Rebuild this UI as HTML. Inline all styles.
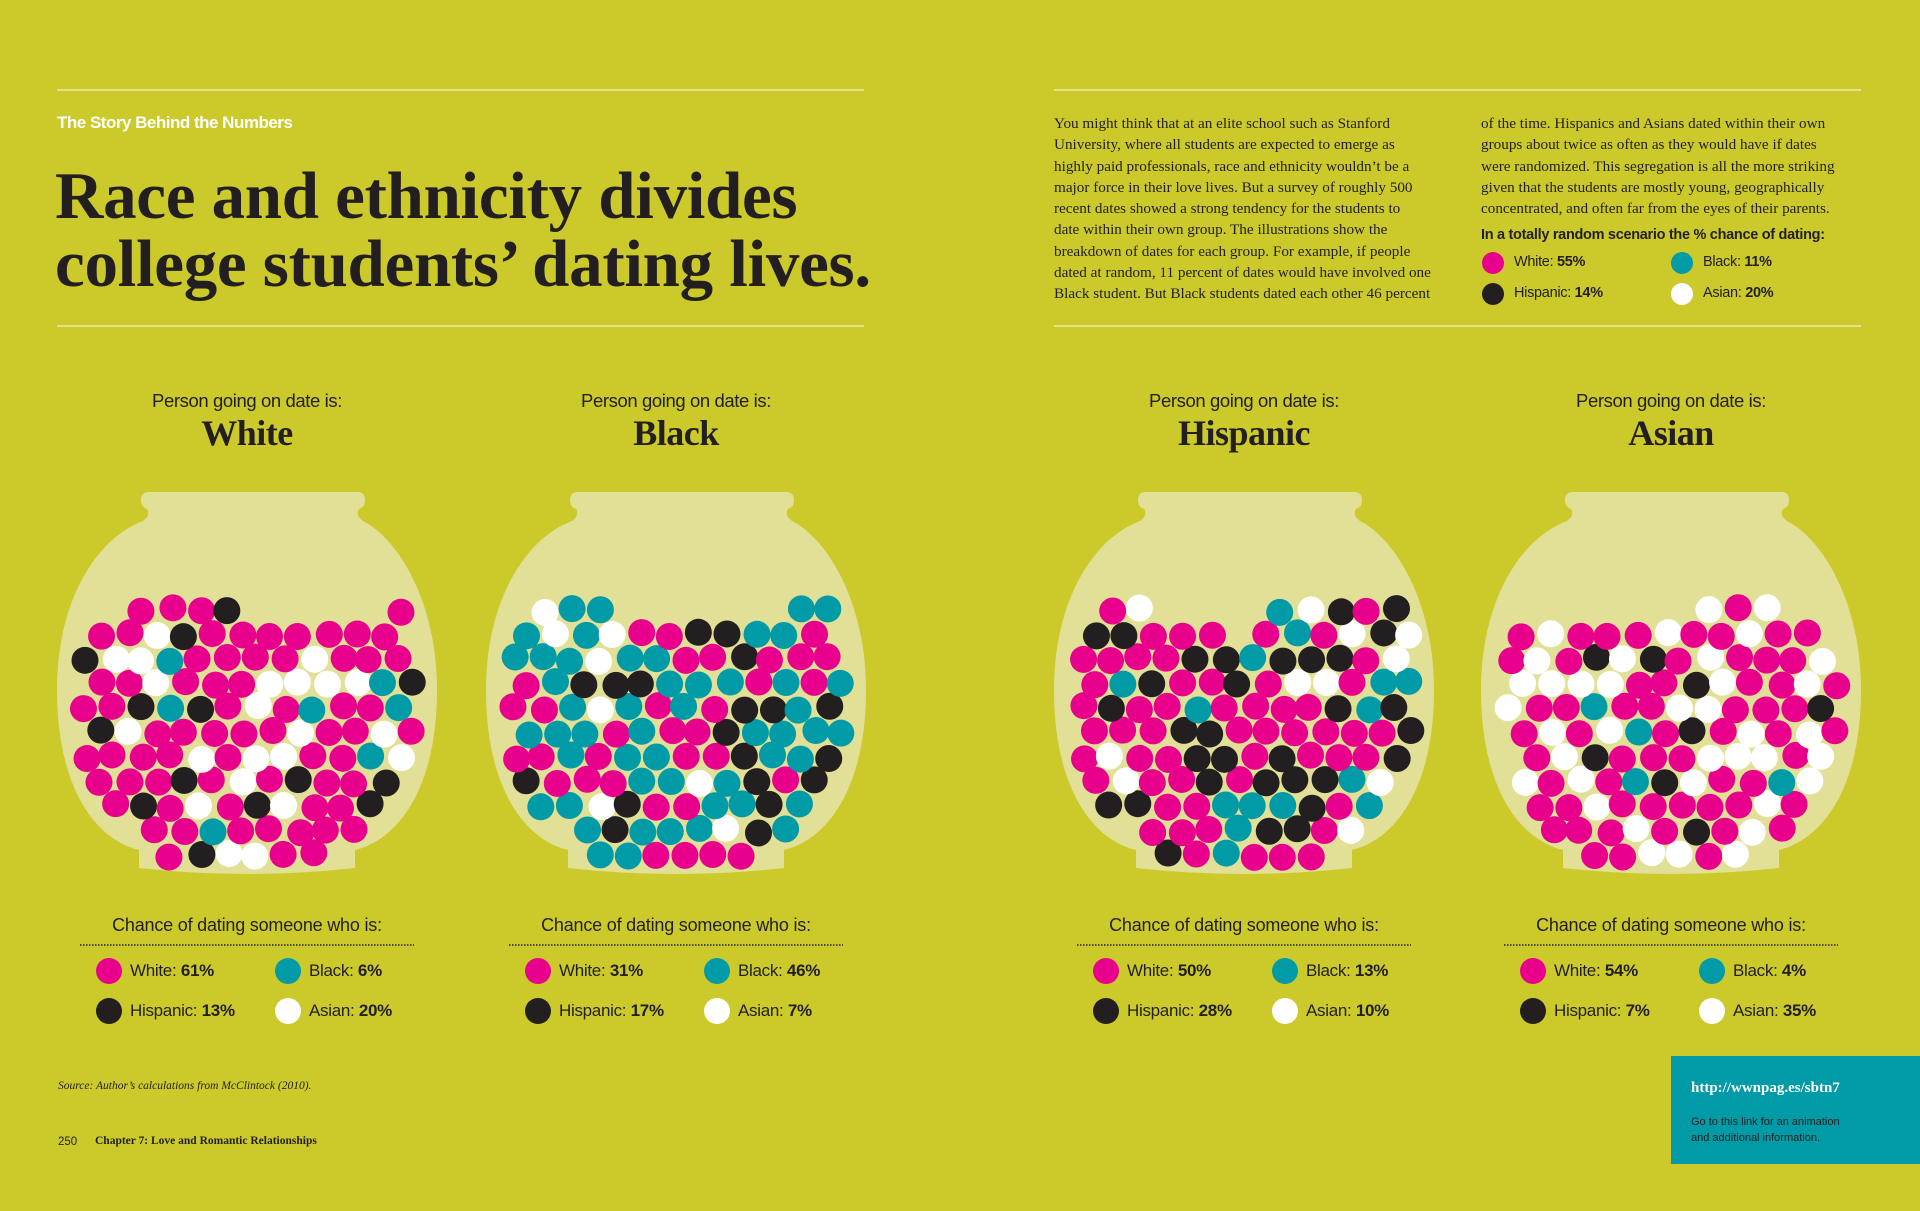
<!DOCTYPE html>
<html><head><meta charset="utf-8">
<style>
html,body{margin:0;padding:0}
body{width:1920px;height:1211px;background:#cbca2a;position:relative;overflow:hidden;font-family:"Liberation Sans",sans-serif;color:#231f20}
.abs{position:absolute;white-space:nowrap}
.rule{position:absolute;height:2px;background:#e3e28e}
.serif{font-family:"Liberation Serif",serif}
.body-text{position:absolute;font-family:"Liberation Serif",serif;font-size:15.2px;line-height:21.3px;color:#231f20;white-space:nowrap}
.leg{position:absolute;font-size:16px;white-space:nowrap}
.dot{position:absolute;border-radius:50%}
</style></head>
<body>
<div class="rule" style="left:57px;top:89px;width:807px"></div>
<div class="rule" style="left:57px;top:325px;width:807px"></div>
<div class="rule" style="left:1054px;top:89px;width:807px"></div>
<div class="rule" style="left:1054px;top:325px;width:807px"></div>

<div class="abs" style="left:57px;top:113px;font-size:17px;font-weight:bold;color:#fff;letter-spacing:-0.5px">The Story Behind the Numbers</div>
<div class="abs serif" style="left:55px;top:162px;font-size:67px;font-weight:bold;line-height:68px;letter-spacing:-0.3px;color:#231f20">Race and ethnicity divides<br>college students’ dating lives.</div>

<div class="body-text" style="left:1054px;top:113px">You might think that at an elite school such as Stanford<br>University, where all students are expected to emerge as<br>highly paid professionals, race and ethnicity wouldn’t be a<br>major force in their love lives. But a survey of roughly 500<br>recent dates showed a strong tendency for the students to<br>date within their own group. The illustrations show the<br>breakdown of dates for each group. For example, if people<br>dated at random, 11 percent of dates would have involved one<br>Black student. But Black students dated each other 46 percent</div>
<div class="body-text" style="left:1481px;top:113px">of the time. Hispanics and Asians dated within their own<br>groups about twice as often as they would have if dates<br>were randomized. This segregation is all the more striking<br>given that the students are mostly young, geographically<br>concentrated, and often far from the eyes of their parents.</div>
<div class="abs" style="left:1481px;top:227px;font-size:14.5px;font-weight:bold;letter-spacing:-0.3px">In a totally random scenario the % chance of dating:</div>
<div id="randLegend"></div>

<svg id="jars" width="1920" height="1211" style="position:absolute;left:0;top:0"></svg>
<div id="labels"></div>

<div class="abs" style="left:58px;top:1080px;font-family:'Liberation Serif',serif;font-style:italic;font-size:11.5px">Source: Author’s calculations from McClintock (2010).</div>
<div class="abs" style="left:58px;top:1136px;font-size:11.5px">250</div>
<div class="abs" style="left:95px;top:1135px;font-family:'Liberation Serif',serif;font-weight:bold;font-size:11.5px">Chapter 7: Love and Romantic Relationships</div>

<div class="abs" style="left:1671px;top:1056px;width:249px;height:108px;background:#009ba6">
  <div class="abs" style="left:20px;top:24px;font-family:'Liberation Serif',serif;font-weight:bold;font-size:15px;color:#fff">http://wwnpag.es/sbtn7</div>
  <div class="abs" style="left:20px;top:58px;font-size:11px;line-height:16px;color:#231f20">Go to this link for an animation<br>and additional information.</div>
</div>

<script>
const groups = ["White","Black","Hispanic","Asian"];
const whitePct = [61,31,50,54];
const blackPct = [6,46,13,4];
const hispanicPct = [13,17,28,7];
const asianPct = [20,7,10,35];
const randomPct = [55,11,14,20];
const catNames = ["White","Black","Hispanic","Asian"];
const catColors = ["#e8008c","#009ba6","#231f20","#ffffff"];

const centers = [247,676,1244,1671];
const svgNS = "http://www.w3.org/2000/svg";
const svg = document.getElementById('jars');
const labels = document.getElementById('labels');

function rng(seed){let s=seed;return function(){s=(s*1103515245+12345)%2147483648;return s/2147483648;};}
function hw(y){
  const e = 190*Math.sqrt(Math.max(0,1-Math.pow((y-690)/200,2)));
  return y>840?Math.max(e,108):e;
}
function jarPath(c){
  return `M${c-110},492 H${c+110} q8,0 8,8 q0,7 -6,9 q-4,6 4,12 C${c+150},538 ${c+190},600 ${c+190},690 C${c+190},790 ${c+150},840 ${c+108},850 L${c+108},868 Q${c},880 ${c-108},868 L${c-108},850 C${c-150},840 ${c-190},790 ${c-190},690 C${c-190},600 ${c-150},538 ${c-104},521 q8,-6 4,-12 q-6,-2 -6,-9 q0,-8 8,-8 Z`;
}

groups.forEach((g,gi)=>{
  const c = centers[gi];
  const p = document.createElementNS(svgNS,'path');
  p.setAttribute('d',jarPath(c));
  p.setAttribute('fill','#e1e096');
  
  
  svg.appendChild(p);
  const R = rng(17+gi*31);
  const pos=[];
  for(let row=0;row<12;row++){
    const y = 855 - row*24.5;
    const off = (row%2)*14;
    for(let x=-190+off;x<=190;x+=28.5){
      const jx = x + (R()-0.5)*5, jy = y + (R()-0.5)*5;
      if(Math.abs(jx)+18 > hw(jy)) continue;
      const top = 614 + 16*Math.sin(jx/40+gi) + (R()-0.5)*14;
      if(jy < top) continue;
      pos.push([c+jx,jy]);
    }
  }
  const n = pos.length;
  const pcts=[whitePct[gi],blackPct[gi],hispanicPct[gi],asianPct[gi]];
  let counts = pcts.map(v=>Math.round(v/100*n));
  let diff = n - counts.reduce((a,b)=>a+b,0);
  counts[0]+=diff;
  const cols=[];
  counts.forEach((k,ci)=>{for(let i=0;i<k;i++)cols.push(ci);});
  for(let i=cols.length-1;i>0;i--){const j=Math.floor(R()*(i+1));[cols[i],cols[j]]=[cols[j],cols[i]];}
  pos.forEach((q,i)=>{
    const ci = cols[i];
    const b = document.createElementNS(svgNS,'circle');
    b.setAttribute('cx',q[0]);b.setAttribute('cy',q[1]);b.setAttribute('r',13.5);
    b.setAttribute('fill',catColors[ci]);
    
    
    svg.appendChild(b);
  });
  const ln = document.createElementNS(svgNS,'line');
  ln.setAttribute('x1',c-167);ln.setAttribute('x2',c+167);ln.setAttribute('y1',945);ln.setAttribute('y2',945);
  ln.setAttribute('stroke','#231f20');ln.setAttribute('stroke-width','1.5');ln.setAttribute('stroke-dasharray','1.5 1.5');
  
  
  svg.appendChild(ln);

  const d1=document.createElement('div');
  d1.className='abs';
  d1.style.cssText=`left:${c-150}px;width:300px;text-align:center;top:390px;font-size:18.5px;letter-spacing:-0.4px`;
  d1.textContent='Person going on date is:';
  
  
  labels.appendChild(d1);
  const d2=document.createElement('div');
  d2.className='abs serif';
  d2.style.cssText=`left:${c-150}px;width:300px;text-align:center;top:412px;font-size:36px;font-weight:bold;letter-spacing:-0.5px`;
  d2.textContent=g;
  
  
  labels.appendChild(d2);
  const d3=document.createElement('div');
  d3.className='abs';
  d3.style.cssText=`left:${c-150}px;width:300px;text-align:center;top:915px;font-size:18px;letter-spacing:-0.2px`;
  d3.textContent='Chance of dating someone who is:';
  
  
  labels.appendChild(d3);
  const lx=[c-138,c+41], ly=[971,1011];
  catNames.forEach((nm,ci)=>{
    const x=lx[ci%2], y=ly[Math.floor(ci/2)];
    const dt=document.createElement('div');
    dt.className='dot';
    dt.style.cssText=`left:${x-13}px;top:${y-13}px;width:26px;height:26px;background:${catColors[ci]}`;
    
    
    labels.appendChild(dt);
    const t=document.createElement('div');
    t.className='leg';
    t.style.cssText=`left:${x+21}px;top:${y-10}px;font-size:17px;letter-spacing:-0.3px`;
    t.innerHTML=nm+': <b>'+pcts[ci]+'%</b>';
    
    
    labels.appendChild(t);
  });
});

const rl=document.getElementById('randLegend');
const rx=[1493,1682], ry=[263,294];
catNames.forEach((nm,ci)=>{
  const x=rx[ci%2], y=ry[Math.floor(ci/2)];
  const dt=document.createElement('div');
  dt.className='dot';
  dt.style.cssText=`left:${x-11}px;top:${y-11}px;width:22px;height:22px;background:${catColors[ci]}`;
  
  
  rl.appendChild(dt);
  const t=document.createElement('div');
  t.className='leg';
  t.style.cssText=`left:${x+21}px;top:${y-9}px;font-size:14.5px;letter-spacing:-0.3px`;
  t.innerHTML=nm+': <b>'+randomPct[ci]+'%</b>';
  
  
  rl.appendChild(t);
});
</script>
</body></html>
